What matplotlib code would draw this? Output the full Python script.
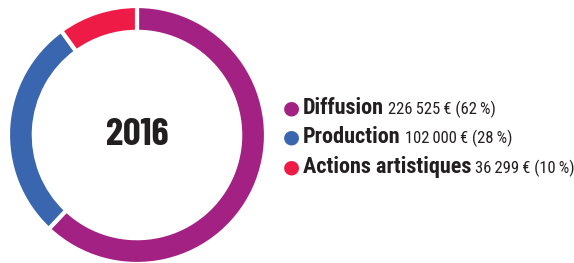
import matplotlib

matplotlib.use("Agg")
import matplotlib.pyplot as plt
from matplotlib import font_manager

labels = ["Diffusion", "Production", "Actions artistiques"]
amounts = ["226\u2009525\u2009€", "102\u2009000\u2009€", "36\u2009299\u2009€"]
shares = [62, 28, 10]
colors = ["#A32182", "#3A66AF", "#EE1B47"]
year = "2016"

W, H = 574, 263

names = {f.name for f in font_manager.fontManager.ttflist}


def pick(cands):
    for c in cands:
        if c in names:
            return c
    return "DejaVu Sans"


narrow = pick(["Roboto Condensed", "Barlow Condensed", "Liberation Sans Narrow",
               "Oswald", "DejaVu Sans"])
title_font = pick(["Barlow Condensed", "Roboto Condensed", "DejaVu Sans"])

fig = plt.figure(figsize=(W / 100, H / 100), dpi=100)

# donut, centred at (137, 128) px from bottom-left, radius 129 px
cx, cy, r = 137, 128, 129
ax = fig.add_axes([(cx - r) / W, (cy - r) / H, 2 * r / W, 2 * r / H])
ax.pie(
    shares,
    colors=colors,
    startangle=90,
    counterclock=False,
    wedgeprops=dict(width=0.2, edgecolor="white", linewidth=3),
)
ax.set_xlim(-1, 1)
ax.set_ylim(-1, 1)
ax.set_aspect("equal")
ax.axis("off")
ax.text(0, 0, year, ha="center", va="center", fontsize=28, fontweight="bold",
        family=[title_font, "DejaVu Sans"], color="#231f20")

# legend
rows_y = [155, 126, 96]
fig.canvas.draw()
renderer = fig.canvas.get_renderer()
for lab, amt, pct, col, y in zip(labels, amounts, shares, colors, rows_y):
    fig.text(291 / W, y / H, "●", color=col, fontsize=14, ha="center", va="center",
             family="DejaVu Sans")
    t = fig.text(303 / W, y / H, lab, fontsize=16, fontweight="bold",
                 family=[narrow, "DejaVu Sans"], color="#231f20", va="center")
    bb = t.get_window_extent(renderer)
    fig.text((bb.x1 + 4) / W, y / H - 0.004, f"{amt} ({pct}\u2009%)", fontsize=12,
             family=[narrow, "DejaVu Sans"], color="#231f20", va="center")

fig.savefig("out.png", dpi=100)
